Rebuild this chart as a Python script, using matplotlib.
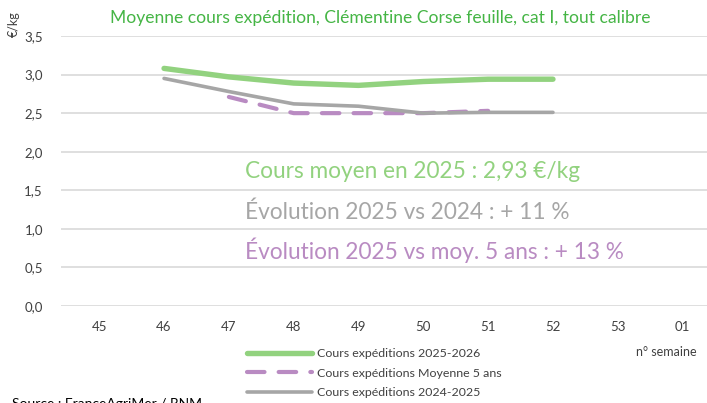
import matplotlib.pyplot as plt

weeks = ['45', '46', '47', '48', '49', '50', '51', '52', '53', '01']
cours_2025 = [None, 3.08, 2.97, 2.89, 2.86, 2.91, 2.94, 2.94, None, None]
moy_5ans = [None, None, 2.71, 2.50, 2.50, 2.50, 2.53, None, None, None]
cours_2024 = [None, 2.95, 2.78, 2.62, 2.59, 2.50, 2.51, 2.51, None, None]
yticks = [0.0, 0.5, 1.0, 1.5, 2.0, 2.5, 3.0, 3.5]

green = '#92d27f'
purple = '#b98bc2'
grey = '#a6a6a6'

plt.rcParams['font.family'] = ['Lato', 'DejaVu Sans']

W, H = 707, 403
fig = plt.figure(figsize=(W / 100, H / 100), dpi=100)
ax = fig.add_axes([61 / W, (H - 306) / H, 654 / W, 270 / H])

x = list(range(len(weeks)))


def pts(vals):
    xs = [i for i, v in zip(x, vals) if v is not None]
    ys = [v for v in vals if v is not None]
    return xs, ys


l1, = ax.plot(*pts(cours_2025), color=green, lw=3.9, solid_capstyle='round', zorder=3)
l2, = ax.plot(*pts(moy_5ans), color=purple, lw=3.0, dashes=(4.2, 3.4),
              dash_capstyle='round', zorder=2)
l3, = ax.plot(*pts(cours_2024), color=grey, lw=2.6, solid_capstyle='round', zorder=4)

ax.set_xlim(-0.59, 9.5)
ax.set_ylim(0, 3.5)
ax.set_xticks(x)
ax.set_xticklabels(weeks)
ax.set_yticks(yticks)
ax.set_yticklabels([('%.1f' % v).replace('.', ',') for v in yticks])
ax.tick_params(length=0, labelsize=9.5, labelcolor='#404040')
ax.tick_params(axis='x', pad=11)
ax.tick_params(axis='y', pad=13)
ax.grid(axis='y', color='#d9d9d9', lw=1.2)
ax.set_axisbelow(True)
for s in ax.spines.values():
    s.set_visible(False)


def px(xp, yp):
    return xp / W, 1 - yp / H


fig.text(*px(380, 18), 'Moyenne cours expédition, Clémentine Corse feuille, cat I, tout calibre',
         color='#45b545', fontsize=12.6, ha='center', va='center')
fig.text(*px(14, 24), '€/kg', rotation=90, color='#404040', fontsize=9,
         ha='center', va='center')

fig.text(*px(245, 172), 'Cours moyen en 2025 : 2,93 €/kg', color=green,
         fontsize=16.3, ha='left', va='center')
fig.text(*px(245, 212), 'Évolution 2025 vs 2024 : + 11 %', color=grey,
         fontsize=16.3, ha='left', va='center')
fig.text(*px(245, 250), 'Évolution 2025 vs moy. 5 ans : + 13 %', color=purple,
         fontsize=16.3, ha='left', va='center')

fig.legend([l1, l2, l3],
           ['Cours expéditions 2025-2026', 'Cours expéditions Moyenne 5 ans',
            'Cours expéditions 2024-2025'],
           loc='upper left', bbox_to_anchor=px(237, 338), frameon=False,
           handlelength=5.3, labelspacing=0.7, handletextpad=0.35,
           prop={'size': 8.9}, labelcolor='#404040', borderpad=0.3)

fig.text(*px(697, 352), 'n° semaine', color='#404040', fontsize=9, ha='right',
         va='center')
fig.text(*px(12, 404), 'Source : FranceAgriMer / RNM', color='#000000', fontsize=10,
         ha='left', va='center')

fig.savefig('out.png', dpi=100)
